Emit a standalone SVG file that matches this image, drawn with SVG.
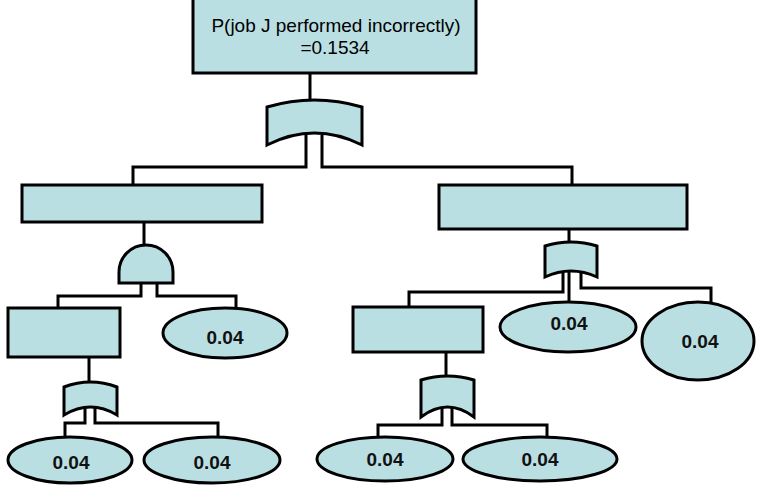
<svg xmlns="http://www.w3.org/2000/svg" width="757" height="485" viewBox="0 0 757 485">
<style>
.n{fill:#BADFE3;stroke:#000;stroke-width:3}
.c{fill:none;stroke:#000;stroke-width:3}
.t{font-family:"Liberation Sans",Arial,sans-serif;font-size:19px;fill:#000;text-anchor:middle}
.v{font-family:"Liberation Sans",Arial,sans-serif;font-size:19px;font-weight:bold;fill:#111;text-anchor:middle}
</style>
<rect width="757" height="485" fill="#fff"/>
<g id="connectors">
<path class="c" d="M310 73V108"/>
<path class="c" d="M306 135V167H133V185"/>
<path class="c" d="M322 135V167H572V185"/>
<path class="c" d="M144 222V250"/>
<path class="c" d="M141 280V296H58V308"/>
<path class="c" d="M157 280V296H236V308"/>
<path class="c" d="M569 229V246"/>
<path class="c" d="M563 272V292H409V307"/>
<path class="c" d="M569 272V302"/>
<path class="c" d="M581 272V288H711V302"/>
<path class="c" d="M89 357V387"/>
<path class="c" d="M85 408V423H65V437"/>
<path class="c" d="M95 408V423H218V437"/>
<path class="c" d="M446 352V380"/>
<path class="c" d="M442 408V425H378V437"/>
<path class="c" d="M452 408V425H547V437"/>
</g>
<g id="top">
<rect class="n" x="193" y="-5" width="283" height="78"/>
<text class="t" x="336" y="32">P(job J performed incorrectly)</text>
<text class="t" x="335" y="54">=0.1534</text>
</g>
<g id="gate-top">
<path class="n" d="M267 107Q314.5 93 362 107V145Q314.5 121 267 145Z"/>
</g>
<g id="left-event">
<rect class="n" x="22" y="185" width="240" height="37"/>
</g>
<g id="right-event">
<rect class="n" x="439" y="185" width="248" height="44"/>
</g>
<g id="gate-and">
<path class="n" d="M119 283V272A27 27 0 0 1 173 272V283Z"/>
</g>
<g id="gate-or-right">
<path class="n" d="M545 246Q571 238 597 246V277Q571 265 545 277Z"/>
</g>
<g id="left-sub">
<rect class="n" x="8" y="308" width="112" height="49"/>
</g>
<g id="basic-1">
<ellipse class="n" cx="225" cy="333" rx="62" ry="25"/>
<text class="v" x="225" y="344">0.04</text>
</g>
<g id="right-sub">
<rect class="n" x="353" y="307" width="130" height="45"/>
</g>
<g id="basic-2">
<ellipse class="n" cx="568" cy="327" rx="68" ry="25"/>
<text class="v" x="569" y="330">0.04</text>
</g>
<g id="basic-3">
<ellipse class="n" cx="698" cy="341" rx="56" ry="39"/>
<text class="v" x="700" y="348">0.04</text>
</g>
<g id="gate-or-left">
<path class="n" d="M64 387Q90.5 377 117 387V415Q90.5 399 64 415Z"/>
</g>
<g id="gate-or-mid">
<path class="n" d="M421 380Q447.5 372 474 380V417Q447.5 397 421 417Z"/>
</g>
<g id="basic-4">
<ellipse class="n" cx="70" cy="460" rx="62" ry="23"/>
<text class="v" x="71" y="469">0.04</text>
</g>
<g id="basic-5">
<ellipse class="n" cx="212" cy="460" rx="68" ry="23"/>
<text class="v" x="212" y="469">0.04</text>
</g>
<g id="basic-6">
<ellipse class="n" cx="385" cy="459" rx="68" ry="22"/>
<text class="v" x="385" y="466">0.04</text>
</g>
<g id="basic-7">
<ellipse class="n" cx="540" cy="459" rx="77" ry="22"/>
<text class="v" x="540" y="466">0.04</text>
</g>
</svg>
